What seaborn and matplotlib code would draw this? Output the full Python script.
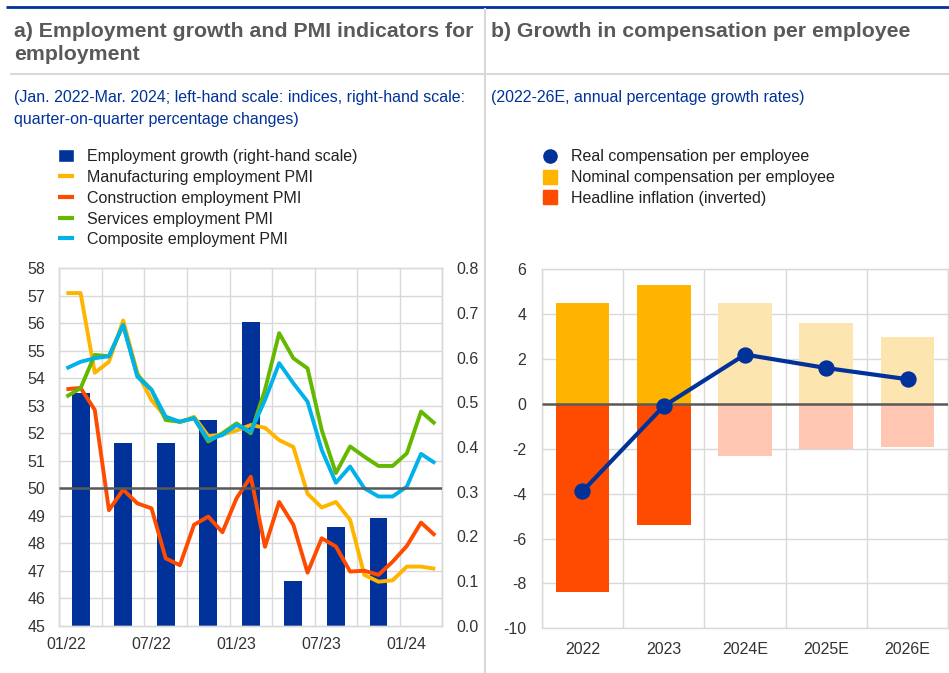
import numpy as np
import pandas as pd
import matplotlib
matplotlib.use('Agg')
import matplotlib.pyplot as plt
import seaborn as sns
from matplotlib.lines import Line2D
from matplotlib.patches import Patch

# ---- data: panel a ----
month_labels = ['01/22', '07/22', '01/23', '07/23', '01/24']
months = pd.period_range('2022-01', '2024-03', freq='M')
manufacturing = [57.1, 57.1, 54.2, 54.6, 56.1, 54.2, 53.2, 52.6, 52.4, 52.6, 51.9, 51.95, 52.1, 52.3,
                 52.2, 51.75, 51.5, 49.8, 49.3, 49.5, 48.85, 46.85, 46.6, 46.65, 47.15, 47.15, 47.07]
construction = [53.6, 53.65, 52.85, 49.2, 49.95, 49.45, 49.27, 47.45, 47.2, 48.67, 48.97, 48.4, 49.64, 50.42,
                47.87, 49.5, 48.67, 46.93, 48.18, 47.88, 46.97, 47.0, 46.85, 47.33, 47.9, 48.75, 48.28]
services = [53.33, 53.64, 54.85, 54.8, 55.94, 54.12, 53.58, 52.48, 52.42, 52.55, 51.7, 52.0, 52.36, 52.0,
            53.58, 55.64, 54.73, 54.36, 52.12, 50.55, 51.52, 51.15, 50.81, 50.81, 51.27, 52.79, 52.34]
composite = [54.36, 54.6, 54.73, 54.8, 55.94, 54.06, 53.58, 52.6, 52.42, 52.55, 51.76, 51.94, 52.3, 52.06,
             53.21, 54.55, 53.82, 53.15, 51.39, 50.2, 50.79, 50.0, 49.7, 49.7, 50.06, 51.25, 50.91]
quarters = ['2022Q1', '2022Q2', '2022Q3', '2022Q4', '2023Q1', '2023Q2', '2023Q3', '2023Q4']
employment_growth = [0.52, 0.41, 0.41, 0.46, 0.68, 0.10, 0.22, 0.24]

# ---- data: panel b ----
years = ['2022', '2023', '2024E', '2025E', '2026E']
nominal_comp = [4.5, 5.3, 4.5, 3.6, 3.0]
inflation_inv = [-8.4, -5.4, -2.3, -2.0, -1.9]
real_comp = [-3.9, -0.1, 2.2, 1.6, 1.1]

BLUE = '#003299'
ORANGE = '#FFB400'
RED = '#FF4B00'
GREEN = '#65B800'
CYAN = '#00B1EA'
GRID = '#d9d9d9'
TXT = '#333333'

sns.set_theme(style='white')
plt.rcParams['font.family'] = ['Liberation Sans', 'DejaVu Sans']
plt.rcParams['axes.unicode_minus'] = False
plt.rcParams['lines.solid_joinstyle'] = 'round'
plt.rcParams['lines.solid_capstyle'] = 'butt'

fig = plt.figure(figsize=(9.49, 6.73), dpi=100)

# header decoration
fig.add_artist(Line2D([6 / 949, 1], [1 - 7 / 673] * 2, color=BLUE, lw=2, transform=fig.transFigure))
fig.add_artist(Line2D([10 / 949, 1], [1 - 74 / 673] * 2, color=GRID, lw=1.5, transform=fig.transFigure))
fig.add_artist(Line2D([485.5 / 949] * 2, [0, 1 - 8 / 673], color=GRID, lw=1.5, transform=fig.transFigure))

fig.text(14 / 949, 1 - 22 / 673, 'a) Employment growth and PMI indicators for\nemployment',
         fontsize=15.3, fontweight='bold', color='#595959', va='top', ha='left', linespacing=1.24)
fig.text(491 / 949, 1 - 22 / 673, 'b) Growth in compensation per employee',
         fontsize=15.3, fontweight='bold', color='#595959', va='top', ha='left')
fig.text(14 / 949, 1 - 90 / 673, '(Jan. 2022-Mar. 2024; left-hand scale: indices, right-hand scale:\nquarter-on-quarter percentage changes)',
         fontsize=11.55, color=BLUE, va='top', ha='left', linespacing=1.6)
fig.text(491 / 949, 1 - 90 / 673, '(2022-26E, annual percentage growth rates)',
         fontsize=11.55, color=BLUE, va='top', ha='left')

# ---- panel a ----
ax_bar = fig.add_axes([59.3 / 949, 1 - 625.7 / 673, 383 / 949, 357.4 / 673])
ax_line = ax_bar.twinx()

q_df = pd.DataFrame({'quarter': quarters, 'growth': employment_growth})
q_df['m'] = [3 * i + 1 for i in range(len(quarters))]  # middle month of each quarter
sns.barplot(data=q_df, x='m', y='growth', native_scale=True, width=0.42, color=BLUE,
            saturation=1, errorbar=None, linewidth=0, ax=ax_bar)

pmi = pd.DataFrame({'m': np.arange(len(months)),
                    'Manufacturing employment PMI': manufacturing,
                    'Construction employment PMI': construction,
                    'Services employment PMI': services,
                    'Composite employment PMI': composite})
pmi_long = pmi.melt(id_vars='m', var_name='series', value_name='value')
line_colors = [ORANGE, RED, GREEN, CYAN]
sns.lineplot(data=pmi_long, x='m', y='value', hue='series', palette=line_colors,
             linewidth=2.8, legend=False, ax=ax_line)
ax_line.axhline(50, color='#595959', lw=1.8, zorder=5)

ax_bar.set_xlim(-0.5, len(months) - 0.5)
ax_bar.set_ylim(0, 0.8)
ax_line.set_ylim(45, 58)
ax_line.set_yticks(np.arange(45, 59, 1))
ax_bar.set_yticks(np.arange(0, 0.81, 0.1))
ax_bar.set_yticklabels([f'{v:.1f}' for v in np.arange(0, 0.81, 0.1)])
ax_bar.set_yticks(np.linspace(0, 0.8, 14), minor=True)
ax_bar.set_xticks(np.arange(0, len(months), 6))
ax_bar.set_xticklabels(month_labels)
ax_bar.set_xticks(np.arange(-0.5, len(months), 3), minor=True)
ax_bar.set_axisbelow(True)
ax_bar.grid(False)
ax_bar.grid(True, which='minor', color=GRID, lw=1)
ax_line.grid(False)
ax_bar.yaxis.tick_right()
ax_line.yaxis.tick_left()
ax_bar.set_xlabel('')
ax_bar.set_ylabel('')
ax_line.set_xlabel('')
ax_line.set_ylabel('')
ax_bar.tick_params(axis='y', which='both', length=0, pad=10, labelsize=11.5, labelcolor=TXT)
ax_bar.tick_params(axis='x', which='both', length=0, pad=8, labelsize=11.5, labelcolor=TXT)
ax_line.tick_params(axis='y', which='both', length=0, pad=10, labelsize=11.5, labelcolor=TXT)
for a in (ax_bar, ax_line):
    for s in a.spines.values():
        s.set_color(GRID)
        s.set_linewidth(1)

handles_a = [Patch(facecolor=BLUE, label='Employment growth (right-hand scale)')] + \
    [Line2D([], [], color=c, lw=3, label=l) for c, l in zip(line_colors, pmi.columns[1:])]
fig.legend(handles=handles_a, loc='upper left', bbox_to_anchor=(44 / 949, 1 - 135 / 673),
           frameon=False, fontsize=11.5, handlelength=0.95, handleheight=0.85,
           handletextpad=0.85, labelspacing=0.36, labelcolor='#222222')

# ---- panel b ----
ax_r = fig.add_axes([541.7 / 949, 1 - 628.3 / 673, 406.6 / 949, 359 / 673])
comp = pd.DataFrame({'year': years, 'nominal': nominal_comp,
                     'inflation': inflation_inv, 'real': real_comp})
nominal_colors = [ORANGE, ORANGE, '#FDE5B0', '#FDE5B0', '#FDE5B0']
inflation_colors = [RED, RED, '#FFC6B2', '#FFC6B2', '#FFC6B2']
sns.barplot(data=comp, x='year', y='nominal', hue='year', palette=nominal_colors, legend=False,
            width=0.66, saturation=1, errorbar=None, linewidth=0, ax=ax_r)
sns.barplot(data=comp, x='year', y='inflation', hue='year', palette=inflation_colors, legend=False,
            width=0.66, saturation=1, errorbar=None, linewidth=0, ax=ax_r)
ax_r.axhline(0, color='#595959', lw=1.8, zorder=3)
sns.pointplot(data=comp, x='year', y='real', color=BLUE, errorbar=None, markersize=9.5,
              linewidth=3, ax=ax_r, zorder=4)

ax_r.set_xlim(-0.5, len(years) - 0.5)
ax_r.set_ylim(-10, 6)
ax_r.set_yticks(np.arange(-10, 7, 2))
ax_r.set_xticks(np.arange(-0.5, len(years), 1), minor=True)
ax_r.set_axisbelow(True)
ax_r.grid(False)
ax_r.grid(True, which='major', axis='y', color=GRID, lw=1)
ax_r.grid(True, which='minor', axis='x', color=GRID, lw=1)
ax_r.set_xlabel('')
ax_r.set_ylabel('')
ax_r.tick_params(axis='y', which='both', length=0, pad=11, labelsize=11.5, labelcolor=TXT)
ax_r.tick_params(axis='x', which='both', length=0, pad=10, labelsize=11.5, labelcolor=TXT)
for s in ax_r.spines.values():
    s.set_color(GRID)
    s.set_linewidth(1)

handles_b = [Line2D([], [], marker='o', ls='none', color=BLUE, markersize=9.5, label='Real compensation per employee'),
             Line2D([], [], marker='s', ls='none', color=ORANGE, markersize=9.5, label='Nominal compensation per employee'),
             Line2D([], [], marker='s', ls='none', color=RED, markersize=9.5, label='Headline inflation (inverted)')]
fig.legend(handles=handles_b, loc='upper left', bbox_to_anchor=(528 / 949, 1 - 135 / 673),
           frameon=False, fontsize=11.5, handlelength=1.0, handletextpad=0.8,
           labelspacing=0.36, labelcolor='#222222')

fig.savefig('out.png', dpi=100)
